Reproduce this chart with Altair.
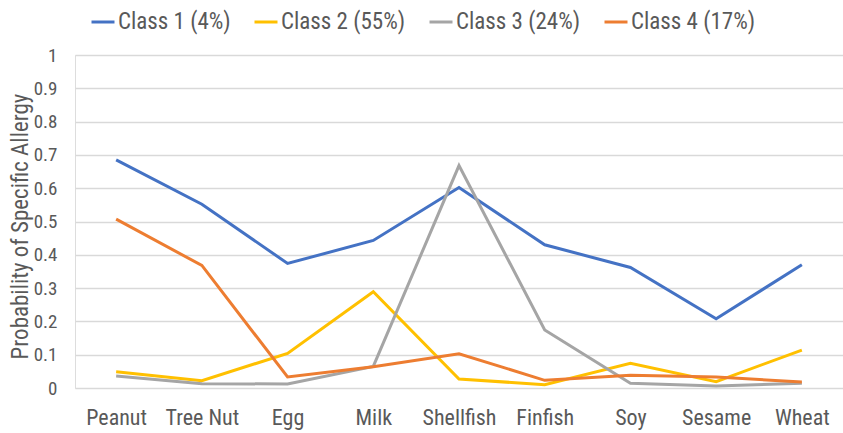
import altair as alt
import pandas as pd

foods = ["Peanut", "Tree Nut", "Egg", "Milk", "Shellfish", "Finfish", "Soy", "Sesame", "Wheat"]
classes = ["Class 1 (4%)", "Class 2 (55%)", "Class 3 (24%)", "Class 4 (17%)"]
colors = ["#4472C4", "#FFC000", "#A5A5A5", "#ED7D31"]

class1 = [0.685, 0.552, 0.374, 0.443, 0.602, 0.430, 0.362, 0.208, 0.370]
class2 = [0.049, 0.022, 0.104, 0.289, 0.027, 0.010, 0.074, 0.019, 0.114]
class3 = [0.036, 0.013, 0.012, 0.065, 0.668, 0.174, 0.014, 0.006, 0.014]
class4 = [0.507, 0.368, 0.033, 0.064, 0.103, 0.023, 0.038, 0.033, 0.018]

rows = []
for cls, vals in zip(classes, [class1, class2, class3, class4]):
    for f, v in zip(foods, vals):
        rows.append({"food": f, "cls": cls, "p": v})
df = pd.DataFrame(rows)

FONT = "Roboto Condensed, Liberation Sans"
GREY = "#595959"

chart = alt.Chart(df).mark_line(strokeWidth=3).encode(
    x=alt.X("food:N", sort=foods, title=None,
            scale=alt.Scale(type="point", padding=0.48),
            axis=alt.Axis(labelAngle=0, domain=False, ticks=False, grid=False,
                          labelFontSize=22, labelColor=GREY, labelPadding=19,
                          labelFont=FONT)),
    y=alt.Y("p:Q", title="Probability of Specific Allergy",
            scale=alt.Scale(domain=[0, 1], nice=False),
            axis=alt.Axis(values=[0, 0.1, 0.2, 0.3, 0.4, 0.5, 0.6, 0.7, 0.8, 0.9, 1],
                          format=".1~f",
                          domain=False, ticks=False, grid=True, gridColor="#D9D9D9",
                          gridWidth=1.3, labelFontSize=19, labelColor=GREY,
                          labelPadding=18, labelFont=FONT,
                          titleFont=FONT, titleFontSize=23, titleFontWeight="normal",
                          titleColor=GREY, titleAngle=270, titleX=-55, titleY=171,
                          titleAlign="center", titleBaseline="middle")),
    color=alt.Color("cls:N", sort=classes, title=None,
                    scale=alt.Scale(domain=classes, range=colors),
                    legend=alt.Legend(orient="none", direction="horizontal",
                                      legendX=15, legendY=-46,
                                      symbolType="stroke", symbolSize=529,
                                      symbolStrokeWidth=3, labelFontSize=23,
                                      labelFont=FONT, labelColor=GREY,
                                      labelOffset=2, columnPadding=17)),
    order=alt.Order("cls:N"),
).properties(
    width=768, height=333,
    padding={"left": 75, "top": 55, "right": 0, "bottom": 45},
    autosize=alt.AutoSizeParams(type="none"),
).configure_view(stroke=None).configure(background="white")

chart.save("out.html", embed_options={"renderer": "svg", "actions": False})
